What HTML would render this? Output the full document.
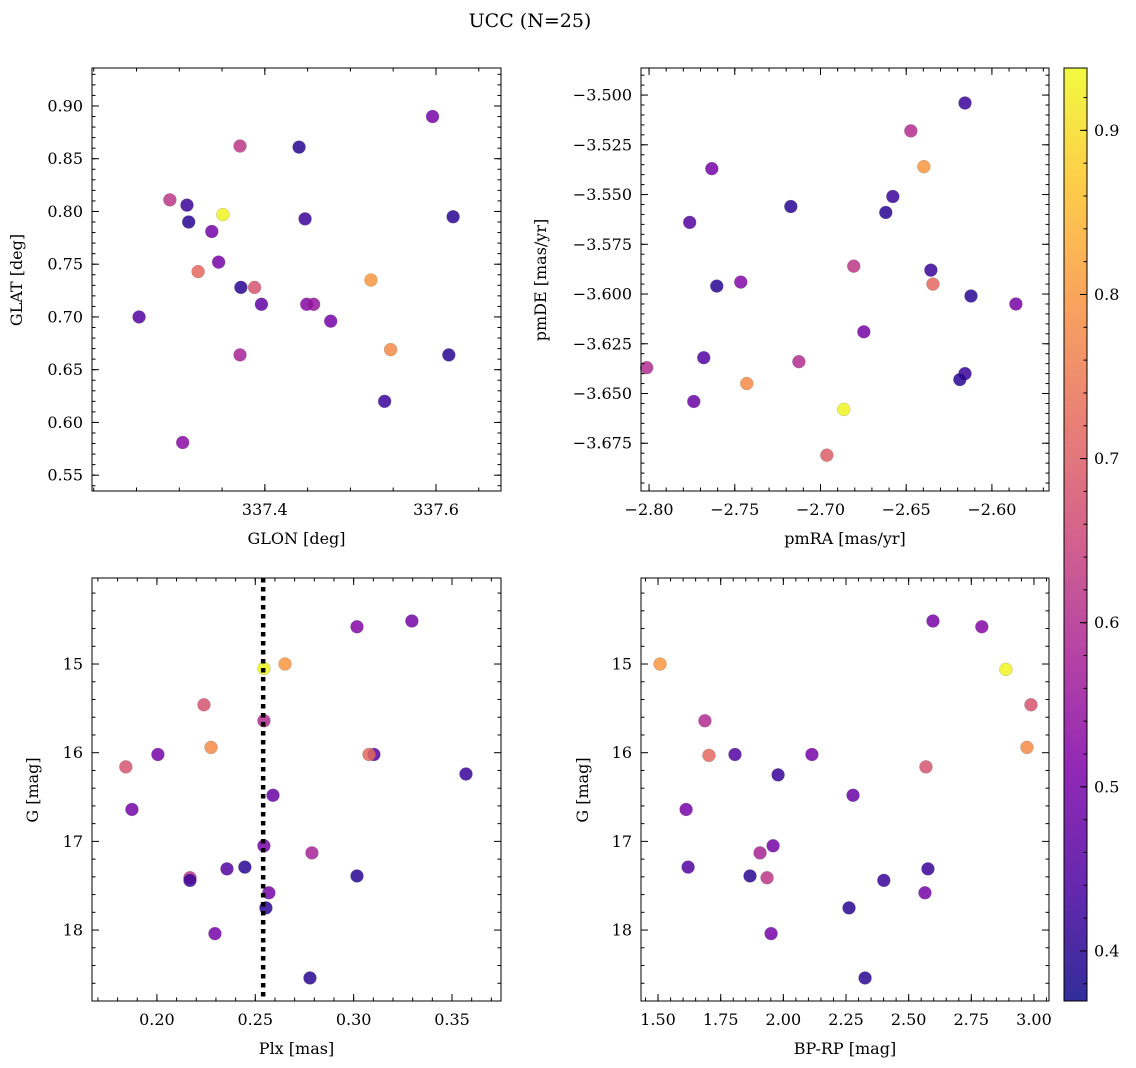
<!DOCTYPE html>
<html><head><meta charset="utf-8"><style>
body{margin:0;background:#fff;}
svg{display:block;font-family:"DejaVu Serif","Liberation Serif",serif;}
</style></head><body>
<svg id="fig" width="1136" height="1068" viewBox="0 0 1136 1068" xmlns="http://www.w3.org/2000/svg">
<text x="530" y="27" font-size="19" text-anchor="middle">UCC (N=25)</text>
</svg>
<script>
// ---- data ----
const p1GLON=[337.596,337.371,337.440,337.289,337.309,337.311,337.351,337.447,337.620,337.338,337.346,337.322,337.388,337.372,337.524,337.253,337.396,337.449,337.457,337.477,337.371,337.547,337.615,337.540,337.304];
const p1GLAT=[0.890,0.862,0.861,0.811,0.806,0.790,0.797,0.793,0.795,0.781,0.752,0.743,0.728,0.728,0.735,0.700,0.712,0.712,0.712,0.696,0.664,0.669,0.664,0.620,0.581];
const p1C=[0.50,0.62,0.40,0.62,0.42,0.40,0.93,0.42,0.40,0.50,0.50,0.72,0.68,0.40,0.80,0.45,0.47,0.52,0.55,0.50,0.58,0.78,0.40,0.42,0.53];
const p2PMRA=[-2.6157,-2.6473,-2.6397,-2.7634,-2.6578,-2.7173,-2.6619,-2.7763,-2.6806,-2.6356,-2.7605,-2.7465,-2.6344,-2.6122,-2.586,-2.6747,-2.7681,-2.7126,-2.8014,-2.6157,-2.6187,-2.743,-2.7739,-2.6864,-2.6963];
const p2PMDE=[-3.504,-3.518,-3.536,-3.537,-3.551,-3.556,-3.559,-3.564,-3.586,-3.588,-3.596,-3.594,-3.595,-3.601,-3.605,-3.619,-3.632,-3.634,-3.637,-3.640,-3.643,-3.645,-3.654,-3.658,-3.681];
const p2C=[0.42,0.60,0.80,0.50,0.42,0.40,0.40,0.45,0.62,0.42,0.40,0.52,0.72,0.40,0.50,0.50,0.45,0.60,0.60,0.42,0.40,0.78,0.48,0.93,0.70];
const p3PLX=[0.3296,0.3017,0.2544,0.2651,0.2239,0.2544,0.2275,0.2005,0.1842,0.3103,0.3078,0.3571,0.2590,0.1873,0.2544,0.2788,0.2447,0.2356,0.3017,0.2168,0.2168,0.2569,0.2554,0.2295,0.2778];
const p3G=[14.515,14.58,15.05,15.00,15.46,15.64,15.94,16.02,16.16,16.02,16.02,16.24,16.48,16.64,17.05,17.13,17.29,17.31,17.39,17.41,17.44,17.58,17.75,18.04,18.54];
const p3C=[0.50,0.52,0.93,0.80,0.68,0.60,0.78,0.50,0.68,0.45,0.72,0.42,0.48,0.50,0.50,0.58,0.40,0.45,0.40,0.62,0.42,0.50,0.40,0.50,0.40];
const p4BPRP=[2.597,2.792,2.888,1.508,2.988,1.687,2.972,1.703,1.807,2.114,1.979,2.569,2.278,1.612,1.959,1.907,1.620,2.577,1.867,1.935,2.401,2.565,2.262,1.951,2.326];
const p4G=[14.515,14.58,15.06,15.00,15.46,15.64,15.94,16.03,16.02,16.02,16.25,16.16,16.48,16.64,17.05,17.13,17.29,17.31,17.39,17.41,17.44,17.58,17.75,18.04,18.54];
const p4C=[0.50,0.52,0.93,0.80,0.68,0.60,0.78,0.72,0.45,0.50,0.42,0.68,0.48,0.50,0.50,0.58,0.45,0.42,0.40,0.62,0.42,0.50,0.40,0.50,0.40];
const plxLine=0.254;
const cbTicks=[0.4,0.5,0.6,0.7,0.8,0.9];

const NS="http://www.w3.org/2000/svg";
const svg=document.getElementById('fig');
function mk(tag,attrs,parent){const e=document.createElementNS(NS,tag);for(const k in attrs)e.setAttribute(k,attrs[k]);(parent||svg).appendChild(e);return e;}
const stops=[[0,[13,8,135]],[0.125,[76,2,161]],[0.25,[126,3,168]],[0.375,[169,35,149]],[0.5,[204,71,120]],[0.625,[229,107,93]],[0.75,[248,148,65]],[0.875,[253,195,40]],[1,[240,249,33]]];
const VMIN=0.3695,VMAX=0.938;
function cmap(v){let t=(v-VMIN)/(VMAX-VMIN);t=Math.max(0,Math.min(1,t));for(let i=1;i<stops.length;i++){if(t<=stops[i][0]){const a=stops[i-1],b=stops[i];const f=(t-a[0])/(b[0]-a[0]);const c=a[1].map((x,j)=>Math.round(x+(b[1][j]-x)*f));return `rgb(${c[0]},${c[1]},${c[2]})`;}}return 'rgb(240,249,33)';}
function fmt(v,d){const s=Math.abs(v).toFixed(d);return (v<-1e-9?'−':'')+s;}

function panel(name,box,xd,yd,xMaj,xMin,xDec,yMaj,yMin,yDec,xlab,ylab,xs,ys,cs){
  const [L,T,R,B]=box;
  const g=mk('g',{});
  
  
  const sx=v=>L+(v-xd[0])/(xd[1]-xd[0])*(R-L);
  const sy=v=>B-(v-yd[0])/(yd[1]-yd[0])*(B-T);
  const pts=mk('g',{},g);
  
  
  for(let i=0;i<xs.length;i++){
    const c=mk('circle',{cx:sx(xs[i]),cy:sy(ys[i]),r:6.5,fill:cmap(cs[i]),'fill-opacity':0.85,stroke:'#777','stroke-width':0.4,'stroke-opacity':0.6},pts);
    
    
  }
  mk('rect',{x:L,y:T,width:R-L,height:B-T,fill:'none',stroke:'#000','stroke-width':1},g);
  const axg=mk('g',{},g);
  const eps=1e-9;
  function ticksX(list,len){list.forEach(v=>{if(v<xd[0]-eps||v>xd[1]+eps)return;const x=sx(v);mk('line',{x1:x,x2:x,y1:B,y2:B-len,stroke:'#000','stroke-width':1},axg);mk('line',{x1:x,x2:x,y1:T,y2:T+len,stroke:'#000','stroke-width':1},axg);});}
  function ticksY(list,len){list.forEach(v=>{if(v<yd[0]-eps||v>yd[1]+eps)return;const y=sy(v);mk('line',{x1:L,x2:L+len,y1:y,y2:y,stroke:'#000','stroke-width':1},axg);mk('line',{x1:R,x2:R-len,y1:y,y2:y,stroke:'#000','stroke-width':1},axg);});}
  ticksX(xMin,3.5);ticksX(xMaj,7);ticksY(yMin,3.5);ticksY(yMaj,7);
  xMaj.forEach(v=>{if(v<xd[0]-eps||v>xd[1]+eps)return;const t=mk('text',{x:sx(v),y:B+24,'font-size':16,'text-anchor':'middle'},g);t.textContent=fmt(v,xDec);});
  yMaj.forEach(v=>{if(v<yd[0]-eps||v>yd[1]+eps)return;const t=mk('text',{x:L-9,y:sy(v)+5.5,'font-size':16,'text-anchor':'end'},g);t.textContent=fmt(v,yDec);});
  const xl=mk('text',{x:(L+R)/2,y:B+53,'font-size':16,'text-anchor':'middle'},g);xl.textContent=xlab;
  
  return {g,sx,sy};
}
function range(a,b,s){const r=[];const n=Math.round((b-a)/s);for(let i=0;i<=n;i++)r.push(+(a+i*s).toFixed(6));return r;}
function ylabel(x,y,txt){const t=mk('text',{x:x,y:y,'font-size':16,'text-anchor':'middle',transform:`rotate(-90 ${x} ${y})`});t.textContent=txt;}

panel('panel-glon-glat',[92,68,501,491],[337.198,337.676],[0.535,0.936],[337.4,337.6],range(337.2,337.7,0.05),1,range(0.55,0.90,0.05),range(0.54,0.93,0.01),2,'GLON [deg]','',p1GLON,p1GLAT,p1C);
ylabel(22,280,'GLAT [deg]');
panel('panel-pm',[641,68,1049,491],[-2.8047,-2.5667],[-3.699,-3.4864],range(-2.80,-2.60,0.05),range(-2.80,-2.57,0.01),2,range(-3.675,-3.500,0.025),range(-3.695,-3.490,0.005),3,'pmRA [mas/yr]','',p2PMRA,p2PMDE,p2C);
ylabel(546,280,'pmDE [mas/yr]');
const P3=panel('panel-plx-g',[92,578,501,1001],[0.167,0.3749],[-18.80,-14.03],range(0.20,0.35,0.05),range(0.17,0.37,0.01),2,[],[],0,'Plx [mas]','',p3PLX,p3G.map(v=>-v),p3C);
const P4=panel('panel-bprp-g',[641,578,1049,1001],[1.432,3.060],[-18.80,-14.03],range(1.50,3.00,0.25),range(1.45,3.05,0.05),2,[],[],0,'BP-RP [mag]','',p4BPRP,p4G.map(v=>-v),p4C);
[[P3,92,501],[P4,641,1049]].forEach(([P,L,R])=>{
  range(14.2,18.8,0.2).forEach(v=>{const y=P.sy(-v);const maj=Math.abs(v-Math.round(v))<1e-6;const len=maj?7:3.5;mk('line',{x1:L,x2:L+len,y1:y,y2:y,stroke:'#000'},P.g);mk('line',{x1:R,x2:R-len,y1:y,y2:y,stroke:'#000'},P.g);
    if(maj){const t=mk('text',{x:L-9,y:y+5.5,'font-size':16,'text-anchor':'end'},P.g);t.textContent=String(v);}});
});
ylabel(38,790,'G [mag]');ylabel(588,790,'G [mag]');
const dl=mk('line',{x1:P3.sx(plxLine),x2:P3.sx(plxLine),y1:578,y2:1001,stroke:'#000','stroke-width':4.5,'stroke-dasharray':'4.5 4.5'},P3.g);



const cb=mk('g',{});


const CL=1064,CR=1087,CT=68,CB=1001;
const defs=mk('defs',{},cb);const lg=mk('linearGradient',{id:'cbg',x1:0,y1:1,x2:0,y2:0},defs);
for(let i=0;i<=40;i++){const v=VMIN+(VMAX-VMIN)*i/40;mk('stop',{offset:i/40,'stop-color':cmap(v),'stop-opacity':0.85},lg);}
mk('rect',{x:CL,y:CT,width:CR-CL,height:CB-CT,fill:'url(#cbg)',stroke:'#000','stroke-width':1},cb);
const cy=v=>CB-(v-VMIN)/(VMAX-VMIN)*(CB-CT);
range(0.38,0.92,0.02).forEach(v=>{const y=cy(v);if(y<CT+1)return;mk('line',{x1:CR,x2:CR-3.5,y1:y,y2:y,stroke:'#000'},cb);});
cbTicks.forEach(v=>{const y=cy(v);mk('line',{x1:CR,x2:CR-7,y1:y,y2:y,stroke:'#000'},cb);const t=mk('text',{x:CR+7,y:y+5.5,'font-size':16},cb);t.textContent=v.toFixed(1);});
</script>
</body></html>
